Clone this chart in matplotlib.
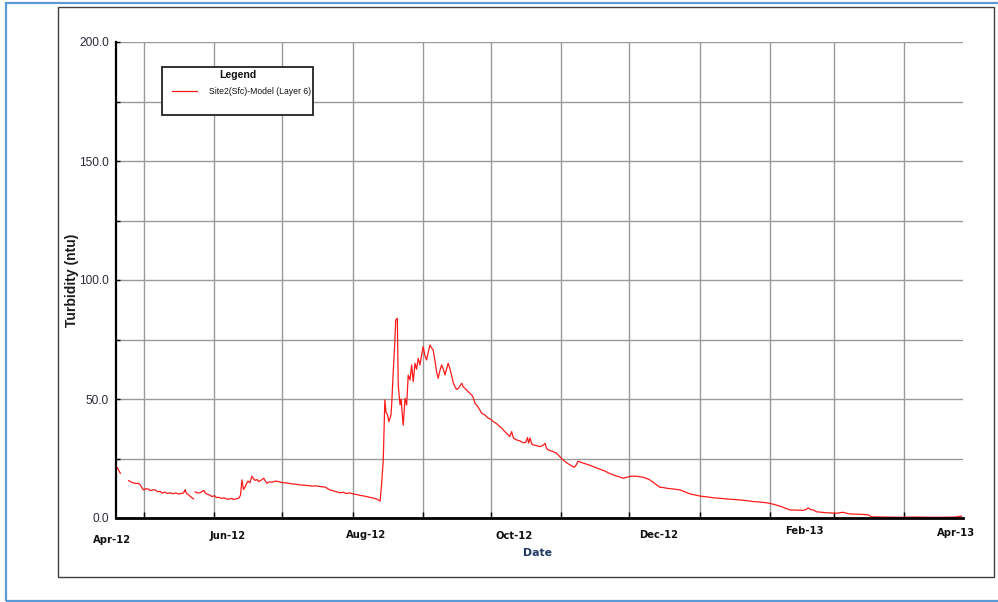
import datetime as dt

import matplotlib
matplotlib.use("Agg")
import matplotlib.pyplot as plt
import matplotlib.dates as mdates
import matplotlib.transforms as mtransforms
from matplotlib.lines import Line2D
from matplotlib.patches import Rectangle
from matplotlib.ticker import FixedLocator, FuncFormatter
import numpy as np

# ---------------------------------------------------------------- data
series_name = "Site2(Sfc)-Model (Layer 6)"
period_start = dt.datetime(2012, 4, 18, 16)
period_end = dt.datetime(2013, 4, 27, 0)

# elapsed days since period_start, and modelled turbidity (ntu); nan = missing record
elapsed_days = [
    0.0, 0.9, 1.9, 2.3, 5.6, 6.5, 7.4, 8.8, 9.8, 10.7, 11.5, 12.2, 13.2, 14.1,
    15.2, 16.3, 17.3, 18.4, 19.4, 20.3, 21.5, 22.6, 23.8, 25.0, 26.3, 27.6,
    28.6, 29.5, 30.2, 30.5, 31.0, 32.0, 33.1, 34.2, 34.6, 34.9, 36.0, 37.0,
    38.1, 38.8, 39.4, 40.4, 41.3, 42.3, 43.4, 44.3, 45.3, 46.5, 47.6, 48.6,
    49.7, 50.8, 51.9, 53.0, 54.1, 54.9, 55.5, 56.2, 57.0, 57.6, 58.2, 59.0,
    59.9, 60.6, 61.3, 62.1, 62.9, 64.0, 65.1, 65.8, 66.5, 67.6, 68.8, 70.2,
    71.7, 73.1, 74.5, 76.0, 77.6, 79.3, 81.1, 83.0, 84.9, 86.5, 88.2, 89.9,
    91.0, 92.1, 93.2, 94.3, 96.5, 98.7, 100.2, 101.6, 103.1, 104.6, 106.0,
    107.5, 109.0, 110.5, 112.3, 114.1, 115.3, 116.4, 117.1, 117.8, 118.5,
    119.0, 119.7, 120.3, 121.2, 121.5, 122.2, 122.8, 123.3, 124.0, 124.4,
    125.2, 125.7, 126.2, 126.6, 127.4, 128.1, 128.8, 129.6, 130.3, 131.0,
    131.8, 132.5, 133.2, 134.0, 134.7, 135.4, 136.2, 136.9, 137.7, 138.4,
    139.1, 139.8, 140.6, 141.3, 142.0, 142.8, 143.5, 144.3, 145.0, 145.7,
    146.4, 147.1, 147.9, 148.6, 149.4, 150.1, 150.9, 151.6, 152.4, 153.1,
    153.8, 155.3, 156.8, 157.5, 158.2, 159.7, 161.2, 162.7, 164.1, 165.2,
    166.3, 167.8, 169.2, 170.0, 170.7, 171.9, 172.8, 173.6, 174.4, 175.2,
    176.6, 178.0, 179.5, 180.6, 181.4, 181.9, 182.5, 183.2, 183.9, 185.4,
    186.9, 188.0, 189.1, 189.8, 190.5, 192.4, 194.2, 195.6, 197.1, 198.6,
    200.1, 201.0, 202.0, 202.9, 203.7, 205.5, 207.4, 209.4, 211.3, 213.3,
    215.3, 217.2, 219.2, 221.4, 223.6, 225.4, 227.3, 229.8, 232.4, 233.9,
    235.3, 237.5, 239.7, 241.2, 242.7, 245.6, 248.6, 250.8, 253.0, 255.2,
    257.4, 260.3, 263.2, 266.1, 269.1, 272.0, 275.0, 278.0, 280.9, 283.9,
    286.8, 289.7, 292.6, 294.8, 297.0, 300.0, 302.9, 304.2, 305.1, 306.2,
    307.3, 308.8, 311.0, 313.2, 315.4, 317.6, 319.0, 320.5, 322.0, 323.5,
    326.4, 329.3, 331.6, 333.1, 339.0, 345.5, 352.0, 358.7, 364.0, 369.8,
    372.7,
]
turbidity = [
    21.8, 20.6, 18.8, np.nan, 15.7, 15.2, 14.8, 14.5, 14.6, 13.9, 12.6, 11.8,
    12.3, 12.2, 11.5, 11.9, 11.8, 11.0, 11.2, 10.4, 10.9, 10.3, 10.6, 10.2,
    10.5, 10.1, 10.3, 10.4, 11.2, 11.9, 10.4, 9.7, 8.8, 8.0, np.nan, 11.0,
    10.5, 10.6, 11.2, 11.6, 10.4, 10.0, 9.6, 9.0, 9.4, 8.6, 8.7, 8.2, 8.5,
    8.0, 7.9, 8.2, 7.8, 8.1, 8.3, 9.6, 16.0, 12.0, 13.2, 14.6, 15.5, 14.8,
    17.6, 16.5, 15.8, 16.2, 15.3, 15.9, 16.7, 15.6, 14.6, 15.2, 15.0, 15.5,
    15.3, 14.9, 14.8, 14.6, 14.3, 14.2, 13.9, 13.8, 13.6, 13.4, 13.5, 13.2,
    13.1, 13.0, 12.4, 11.8, 11.2, 10.6, 10.8, 10.3, 10.5, 10.1, 9.9, 9.5,
    9.3, 9.0, 8.6, 8.2, 7.8, 7.1, 14.6, 24.4, 49.6, 44.5, 43.3, 40.5, 43.3,
    47.5, 61.5, 72.0, 83.2, 83.9, 55.9, 47.5, 50.0, 43.3, 39.0, 50.3, 47.5,
    60.0, 58.0, 64.3, 57.3, 65.0, 62.5, 67.1, 64.3, 68.5, 72.0, 68.0, 66.4,
    70.0, 72.7, 71.5, 70.6, 66.0, 61.5, 58.7, 62.0, 64.3, 62.5, 60.1, 62.5,
    65.0, 63.0, 60.0, 57.0, 55.2, 54.0, 54.5, 55.5, 56.6, 55.0, 54.5, 53.0,
    51.7, 50.5, 48.2, 46.5, 44.0, 43.2, 41.9, 41.5, 40.5, 39.6, 38.4, 37.8,
    37.0, 35.8, 35.0, 34.2, 36.3, 33.5, 32.8, 32.4, 31.6, 31.8, 33.8, 31.5,
    33.6, 31.2, 30.7, 30.4, 30.0, 30.4, 31.4, 29.2, 28.6, 28.0, 27.2, 25.8,
    24.4, 23.2, 22.3, 21.8, 21.3, 22.4, 23.9, 23.2, 22.6, 22.0, 21.2, 20.5,
    19.8, 18.9, 18.1, 17.4, 16.7, 17.2, 17.6, 17.5, 17.1, 16.6, 16.0, 14.5,
    12.9, 12.8, 12.5, 12.2, 11.8, 11.0, 10.1, 9.7, 9.2, 8.9, 8.5, 8.3, 8.0,
    7.8, 7.6, 7.3, 6.9, 6.7, 6.4, 5.8, 5.0, 4.2, 3.4, 3.3, 3.2, 3.6, 4.3,
    3.5, 3.4, 2.6, 2.4, 2.2, 2.1, 2.0, 2.2, 2.4, 2.0, 1.7, 1.6, 1.5, 1.3,
    0.5, 0.4, 0.3, 0.4, 0.3, 0.3, 0.4, 0.8,
]

# axis annotation
y_ticks = [0, 25, 50, 75, 100, 125, 150, 175, 200]
y_labelled = [0, 50, 100, 150, 200]
x_label_dates = ["2012-04-18T16:00", "2012-06-07", "2012-08-07", "2012-10-11",
                 "2012-12-14", "2013-02-16", "2013-04-24"]
x_labels = ["Apr-12", "Jun-12", "Aug-12", "Oct-12", "Dec-12", "Feb-13", "Apr-13"]

# ---------------------------------------------------------------- figure
W, H = 998, 602
fig = plt.figure(figsize=(W / 100, H / 100), dpi=100)
fig.patch.set_facecolor("white")


def fx(x):
    return x / W


def fy(y):
    return 1 - y / H


ax_l, ax_r, ax_t, ax_b = 116, 963, 42, 518
ax = fig.add_axes([fx(ax_l), fy(ax_b), (ax_r - ax_l) / W, (ax_b - ax_t) / H])

t0 = mdates.date2num(period_start)
x_vals = t0 + np.asarray(elapsed_days, dtype=float)
y_vals = np.asarray(turbidity, dtype=float)
ax.plot(x_vals, y_vals, color="#ff1a1a", lw=0.9, zorder=3)

ax.set_xlim(mdates.date2num(period_start), mdates.date2num(period_end))
ax.set_ylim(0, 200)

# monthly grid with short inward ticks
ax.xaxis.set_minor_locator(mdates.MonthLocator())
ax.xaxis.set_major_locator(FixedLocator(mdates.date2num(
    [dt.datetime.fromisoformat(d) for d in x_label_dates])))
ax.set_xticklabels(x_labels)
ax.grid(True, which="minor", axis="x", color="#9a9a9a", lw=1.0)
ax.grid(False, which="major", axis="x")
ax.tick_params(axis="x", which="minor", direction="in", length=4,
               width=1.0, color="black")
ax.tick_params(axis="x", which="major", length=0, pad=9.5)
for lab in ax.get_xticklabels():
    lab.set_fontfamily("DejaVu Sans")
    lab.set_fontweight("bold")
    lab.set_fontsize(7.2)
    lab.set_color("#111111")

# per-label offsets (points): small horizontal / vertical nudges
nudges = [(-3, -2.5), (0, 0), (0, 1), (0, 0), (0, 1), (0, 4), (0, 2)]
for lab, (dx, dy) in zip(ax.get_xticklabels(), nudges):
    lab.set_transform(lab.get_transform()
                      + mtransforms.ScaledTranslation(dx / 72, dy / 72, fig.dpi_scale_trans))

ax.yaxis.set_major_locator(FixedLocator(y_ticks))
ax.yaxis.set_major_formatter(FuncFormatter(
    lambda v, p: f"{v:.1f}" if round(v) in y_labelled else ""))
ax.grid(True, which="major", axis="y", color="#9a9a9a", lw=1.0)
ax.tick_params(axis="y", which="major", direction="in", length=3,
               width=1.0, color="black", pad=5, labelsize=8.6,
               labelcolor="#2a2a3a")
for lab in ax.get_yticklabels():
    lab.set_fontfamily("Liberation Sans")

for side in ("top", "right"):
    ax.spines[side].set_visible(False)
ax.spines["left"].set_linewidth(1.6)
ax.spines["bottom"].set_linewidth(2.0)
ax.spines["left"].set_zorder(4)
ax.spines["bottom"].set_zorder(4)
ax.set_axisbelow(True)

ax.set_ylabel("Turbidity (ntu)", fontfamily="Liberation Sans",
              fontweight="bold", fontsize=10, color="#1a1a1a")
ax.yaxis.set_label_coords((79 - ax_l) / (ax_r - ax_l), (ax_b - 280) / (ax_b - ax_t))
ax.set_xlabel("Date", fontfamily="DejaVu Sans", fontsize=7.8, color="#1f3864",
              fontweight="bold")
ax.xaxis.set_label_coords((538 - ax_l) / (ax_r - ax_l), -(553 - ax_b) / (ax_b - ax_t))
ax.xaxis.label.set_va("center")

# legend panel
lg_l, lg_t, lg_r, lg_b = 162, 67, 313, 115
fig.patches.append(Rectangle((fx(lg_l), fy(lg_b)), (lg_r - lg_l) / W, (lg_b - lg_t) / H,
                             transform=fig.transFigure, facecolor="white",
                             edgecolor="#222222", lw=1.3, zorder=10))
fig.text(fx(237.5), fy(75), "Legend", ha="center", va="center",
         fontfamily="Liberation Sans", fontweight="bold", fontsize=7.6,
         color="#111111", zorder=11)
fig.lines.append(Line2D([fx(172), fx(197)], [fy(91), fy(91)], transform=fig.transFigure,
                        color="#ff1a1a", lw=0.9, zorder=11))
fig.text(fx(209), fy(91), series_name, ha="left", va="center",
         fontfamily="Liberation Sans", fontsize=6.2, color="#111111", zorder=11)

# outer frames
fig.patches.append(Rectangle((fx(58), fy(576.7)), (994 - 58) / W, (576.7 - 7.3) / H,
                             transform=fig.transFigure, facecolor="none",
                             edgecolor="#404040", lw=1.0, zorder=1))
fig.patches.append(Rectangle((fx(5.5), fy(601)), (1004 - 5.5) / W, (601 - 2.5) / H,
                             transform=fig.transFigure, facecolor="none",
                             edgecolor="#5b9bd5", lw=1.6, zorder=1))

fig.savefig("out.png", dpi=100)
